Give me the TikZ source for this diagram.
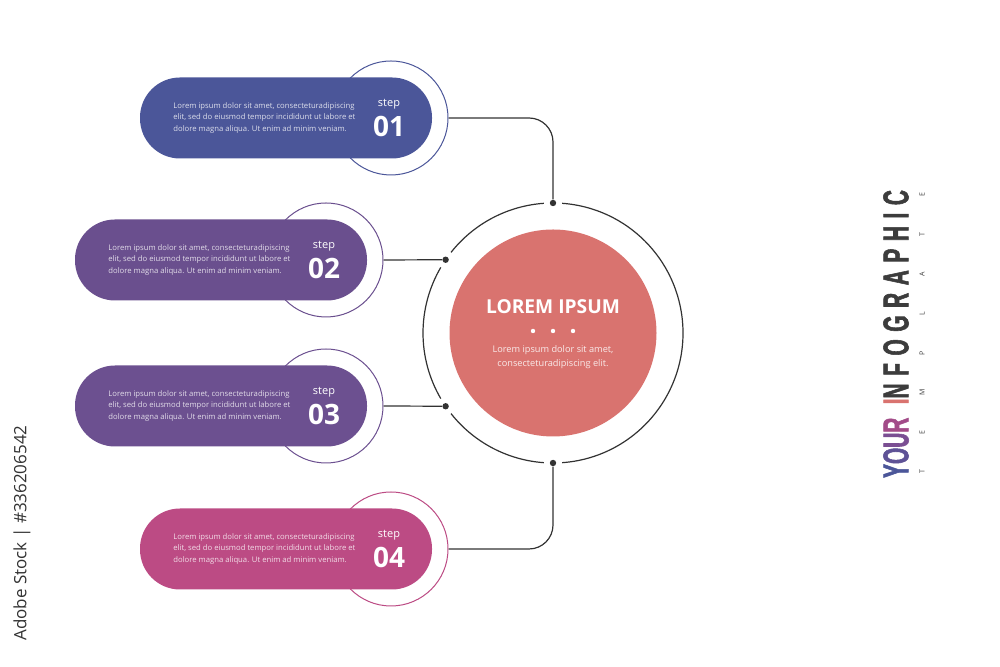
\documentclass[tikz,border=0pt]{standalone}
\usepackage{fontspec}
\setmainfont{Open Sans}
\newfontfamily\titlefont[FakeStretch=0.58,LetterSpace=21,FakeBold=1.5]{Liberation Sans}
\usetikzlibrary{calc}

\definecolor{stepA}{RGB}{75,86,153}
\definecolor{stepB}{RGB}{106,79,142}
\definecolor{stepC}{RGB}{108,80,144}
\definecolor{stepD}{RGB}{188,75,132}
\definecolor{hubfill}{RGB}{217,115,111}
\definecolor{linegray}{RGB}{50,50,50}
\definecolor{titlegray}{RGB}{60,60,60}
\definecolor{titleO}{RGB}{94,82,150}
\definecolor{titleU}{RGB}{122,78,146}
\definecolor{titleR}{RGB}{162,75,136}

\begin{document}
\begin{tikzpicture}[x=0.5pt,y=0.5pt,
    stepbox/.style={rounded corners=20pt, minimum width=146pt, minimum height=40.5pt, inner sep=0pt},
    ring/.style={circle, draw, line width=0.5pt, fill=white, minimum size=57pt, inner sep=0pt},
    bodytext/.style={text=white, text opacity=0.8, align=left, inner sep=0pt,
      font=\fontsize{3.85}{5.65}\selectfont},
    steplbl/.style={text=white, inner sep=0pt, font=\fontsize{5.5}{6}\selectfont},
    stepnum/.style={text=white, inner sep=0pt, font=\bfseries\fontsize{14}{14}\selectfont},
    hub/.style={line width=0.6pt, draw=linegray},
    dot/.style={circle, fill=linegray, inner sep=0pt, minimum size=3.2pt}]
  \useasboundingbox (0,0) rectangle (1000,667);

  % hub in the middle
  \node[circle, fill=hubfill, minimum size=103.5pt, inner sep=0pt] (core) at (553,334) {};
  \foreach \a/\b in {94/141.7, 149.7/210.3, 218.3/266, 274/446}
    \draw[hub] ($(core)+(\a:130)$) arc[start angle=\a, end angle=\b, radius=65pt];
  \node[text=white, font=\bfseries\fontsize{9.6}{10}\selectfont] (corehead) at (553,360) {LOREM IPSUM};
  \foreach \dx in {-20,0,20}
    \fill[white] (553+\dx,336) circle (1.1pt);
  \node[text=white, text opacity=0.85, align=center, font=\fontsize{4.6}{7}\selectfont] (coretext) at (553,310)
    {Lorem ipsum dolor sit amet,\\consecteturadipiscing elit.};

  % steps
  \foreach \n/\cx/\cy/\col in {01/286/549/stepA, 02/221/407/stepB, 03/221/261/stepC, 04/286/118/stepD} {
    \node[ring, draw=\col] (ring\n) at (\cx+105,\cy) {};
    \node[stepbox, fill=\col] (box\n) at (\cx,\cy) {};
    \node[bodytext, anchor=west] (text\n) at (\cx-113,\cy) {Lorem ipsum dolor sit amet, consecteturadipiscing\\
      elit, sed do eiusmod tempor incididunt ut labore et\\dolore magna aliqua. Ut enim ad minim veniam.};
    \node[steplbl] (lbl\n) at (\cx+103,\cy+14) {step};
    \node[stepnum] (num\n) at (\cx+103,\cy-8) {\n};
  }

  % connectors
  \node[dot] (dotT) at ($(core)+(90:130)$) {};
  \node[dot] (dotU) at ($(core)+(145.7:130)$) {};
  \node[dot] (dotL) at ($(core)+(214.3:130)$) {};
  \node[dot] (dotB) at ($(core)+(270:130)$) {};
  \draw[hub, rounded corners=12pt] (ring01.east) -- (dotT |- ring01.east) -- (dotT);
  \draw[hub] (ring02.east) -- (dotU);
  \draw[hub] (ring03.east) -- (dotL);
  \draw[hub, rounded corners=12pt] (ring04.east) -- (dotB |- ring04.east) -- (dotB);

  % title
  \node[rotate=90, inner sep=0pt, font=\titlefont\bfseries\fontsize{18}{18}\selectfont] (title) at (896,333)
    {\textcolor{stepA}{Y}\textcolor{titleO}{O}\textcolor{titleU}{U}\textcolor{titleR}{R}
     \textcolor{hubfill}{I}\textcolor{titlegray}{NFOGRAPHIC}};
  \foreach \ch [count=\i from 0] in {T,E,M,P,L,A,T,E}
    \node[rotate=90, inner sep=0pt, text=titlegray, font=\fontsize{3.5}{4}\selectfont] (tpl\i) at (922,195+39.6*\i) {\ch};

  \node[rotate=90, text=linegray, font=\fontsize{8.5}{9}\selectfont] (stockmark) at (22,134) {Adobe Stock | \#336206542};
\end{tikzpicture}
\end{document}
